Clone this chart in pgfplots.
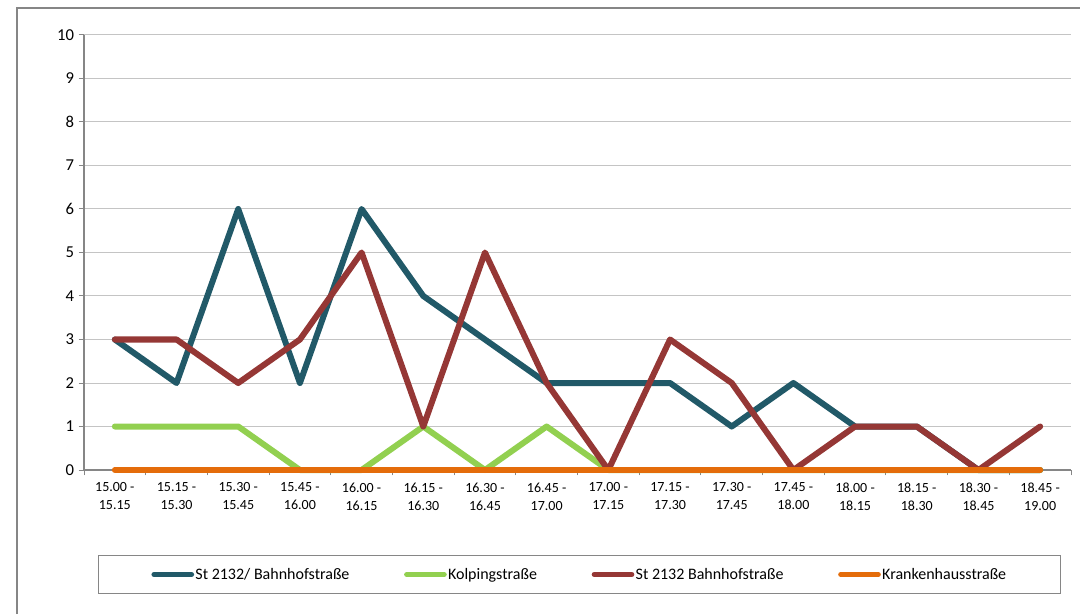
\documentclass[border=0pt]{standalone}
\usepackage{fontspec}
\setmainfont{Carlito}
\usepackage{pgfplots}
\pgfplotsset{compat=1.18}
\definecolor{stteal}{RGB}{33,89,104}
\definecolor{kolgreen}{RGB}{146,208,80}
\definecolor{stred}{RGB}{149,55,53}
\definecolor{krorange}{RGB}{228,108,10}
\definecolor{axgray}{RGB}{134,134,134}
\definecolor{gridgray}{RGB}{196,196,196}

\begin{document}
\begin{tikzpicture}
% page is 1080x614 px at 0.75pt per px
\useasboundingbox (0pt,0pt) rectangle (810pt,460.5pt);
\draw[axgray, line width=0.9pt] (12.75pt,0pt) -- (12.75pt,454.5pt) -- (810pt,454.5pt);
\begin{axis}[
  at={(63pt,108pt)}, anchor=south west,
  scale only axis, width=740.25pt, height=326.25pt,
  xmin=-0.5, xmax=15.5, ymin=0, ymax=10,
  xtick={0,...,15},
  xticklabels={{15.00 -\\15.15},{15.15 -\\15.30},{15.30 -\\15.45},{15.45 -\\16.00},
    {16.00 -\\16.15},{16.15 -\\16.30},{16.30 -\\16.45},{16.45 -\\17.00},
    {17.00 -\\17.15},{17.15 -\\17.30},{17.30 -\\17.45},{17.45 -\\18.00},
    {18.00 -\\18.15},{18.15 -\\18.30},{18.30 -\\18.45},{18.45 -\\19.00}},
  major x tick style={draw=none},
  minor xtick={-0.5,0.5,...,15.5},
  ytick={0,...,10},
  axis x line*=bottom, axis y line*=left,
  axis line style={axgray, line width=0.9pt, -},
  ymajorgrids, grid style={gridgray, line width=0.75pt},
  tick style={axgray, line width=0.75pt},
  tick align=outside, major tick length=4pt, minor tick length=4pt,
  xticklabel style={align=center, font=\fontsize{10.5}{13.5}\selectfont, yshift=-2pt},
  yticklabel style={font=\fontsize{12.5}{14}\selectfont},
  /pgf/number format/assume math mode=true,
  every axis plot/.append style={line width=4.5pt, line join=round, line cap=round},
  legend columns=4,
  legend image code/.code={\draw[#1, line width=4pt, line cap=round] (1pt,0pt) -- (29pt,0pt);},
  legend style={at={(axis description cs:0.502,-0.2402)}, anchor=center,
    draw=axgray, line width=0.75pt, font=\fontsize{12}{14}\selectfont,
    inner xsep=40pt, inner ysep=7pt,
    nodes={inner xsep=1pt},
    /tikz/every even column/.append style={column sep=40pt}},
  clip=false,
]
\addplot[stteal] coordinates {(0,3)(1,2)(2,6)(3,2)(4,6)(5,4)(6,3)(7,2)(8,2)(9,2)(10,1)(11,2)(12,1)(13,1)(14,0)(15,0)};
\addlegendentry{St 2132/ Bahnhofstraße}
\addplot[kolgreen] coordinates {(0,1)(1,1)(2,1)(3,0)(4,0)(5,1)(6,0)(7,1)(8,0)(9,0)(10,0)(11,0)(12,0)(13,0)(14,0)(15,0)};
\addlegendentry{Kolpingstraße}
\addplot[stred] coordinates {(0,3)(1,3)(2,2)(3,3)(4,5)(5,1)(6,5)(7,2)(8,0)(9,3)(10,2)(11,0)(12,1)(13,1)(14,0)(15,1)};
\addlegendentry{St 2132 Bahnhofstraße}
\addplot[krorange] coordinates {(0,0)(1,0)(2,0)(3,0)(4,0)(5,0)(6,0)(7,0)(8,0)(9,0)(10,0)(11,0)(12,0)(13,0)(14,0)(15,0)};
\addlegendentry{Krankenhausstraße}
\end{axis}
\end{tikzpicture}
\end{document}
